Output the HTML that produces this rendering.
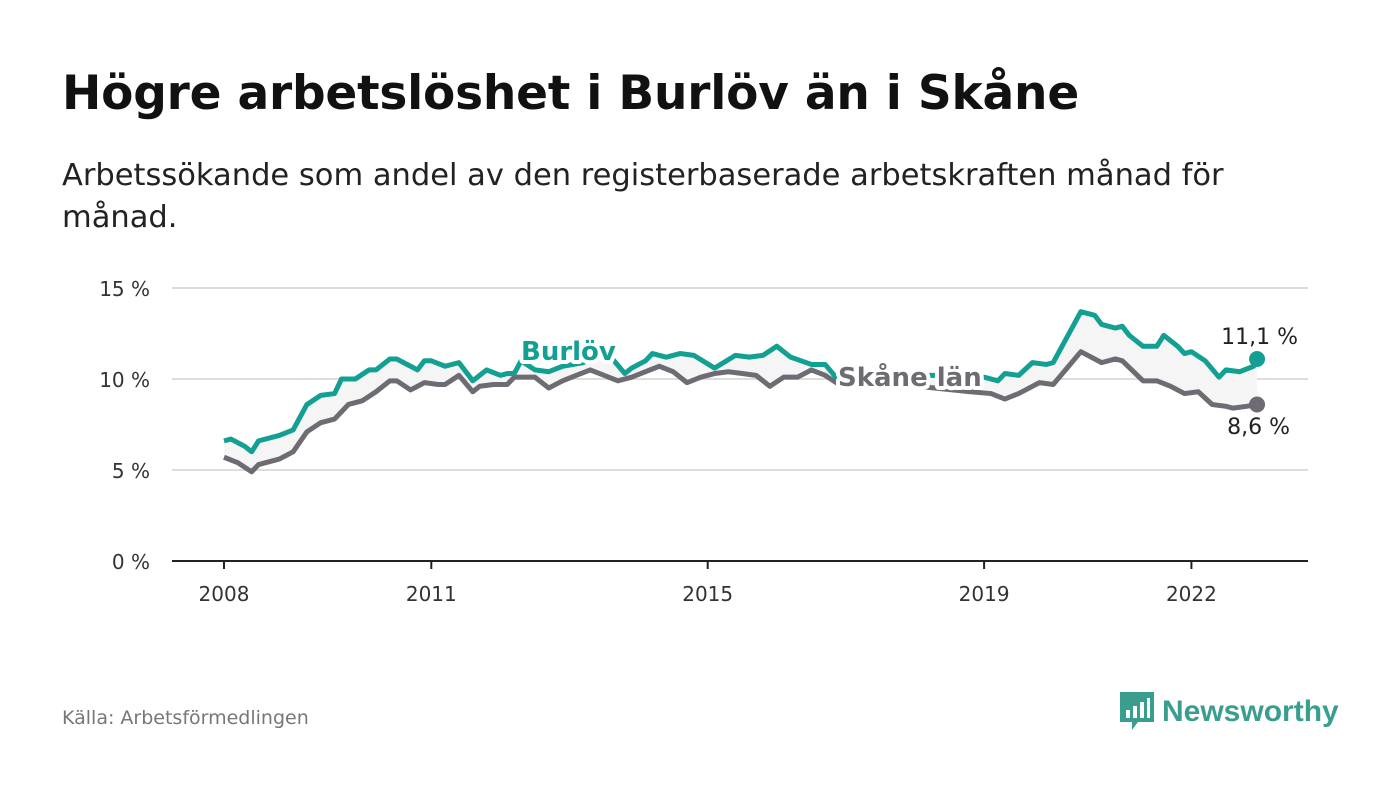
<!DOCTYPE html>
<html><head><meta charset="utf-8"><style>
body{margin:0;width:1400px;height:794px;background:#fff;font-family:"DejaVu Sans","Liberation Sans",sans-serif;overflow:hidden;position:relative}
.t{position:absolute;left:62px;top:66px;font-size:47px;font-weight:bold;color:#111;margin:0;letter-spacing:-0.2px;white-space:nowrap}
.s{position:absolute;left:62px;top:155px;font-size:30.5px;color:#222;line-height:42px;width:1200px}
.src{position:absolute;left:62px;top:707px;font-size:19px;color:#777}
</style></head><body>
<h1 class="t">Högre arbetslöshet i Burlöv än i Skåne</h1>
<div class="s">Arbetssökande som andel av den registerbaserade arbetskraften månad för månad.</div>
<div class="src">Källa: Arbetsförmedlingen</div>
<div style="position:absolute;left:1118px;top:690px;display:flex;align-items:center">
<svg width="38" height="44"><path d="M2 2h34v30H20l-6 8v-8H2z" fill="#3a9e8f"/><rect x="8" y="20" width="4" height="8" fill="#fff"/><rect x="15" y="16" width="4" height="12" fill="#fff"/><rect x="22" y="12" width="4" height="16" fill="#fff"/><rect x="29" y="8" width="3" height="20" fill="#fff"/></svg>
<span style="font-family:'Liberation Sans',sans-serif;font-size:30px;font-weight:bold;color:#3a9e8f;margin-left:6px">Newsworthy</span></div>
<svg id="c" width="1400" height="794" style="position:absolute;left:0;top:0"></svg>
<script>
const burlovDates=[2008.0,2008.1,2008.3,2008.4,2008.5,2008.8,2009.0,2009.2,2009.4,2009.6,2009.7,2009.9,2010.1,2010.2,2010.4,2010.5,2010.7,2010.8,2010.9,2011.0,2011.2,2011.4,2011.6,2011.7,2011.8,2012.0,2012.1,2012.2,2012.3,2012.5,2012.7,2012.9,2013.2,2013.4,2013.6,2013.8,2013.9,2014.1,2014.2,2014.4,2014.6,2014.8,2015.1,2015.4,2015.6,2015.8,2016.0,2016.2,2016.5,2016.7,2016.9,2017.0,2017.5,2018.0,2018.5,2019.0,2019.2,2019.3,2019.5,2019.7,2019.9,2020.0,2020.3,2020.4,2020.6,2020.7,2020.9,2021.0,2021.1,2021.3,2021.5,2021.6,2021.8,2021.9,2022.0,2022.2,2022.4,2022.5,2022.7,2022.9,2022.95];
const burlovVals=[6.6,6.7,6.3,6.0,6.6,6.9,7.2,8.6,9.1,9.2,10.0,10.0,10.5,10.5,11.1,11.1,10.7,10.5,11.0,11.0,10.7,10.9,9.9,10.2,10.5,10.2,10.3,10.3,11.0,10.5,10.4,10.7,10.9,11.5,11.2,10.3,10.6,11.0,11.4,11.2,11.4,11.3,10.6,11.3,11.2,11.3,11.8,11.2,10.8,10.8,9.9,10.2,10.2,10.2,10.2,10.1,9.9,10.3,10.2,10.9,10.8,10.9,13.0,13.7,13.5,13.0,12.8,12.9,12.4,11.8,11.8,12.4,11.8,11.4,11.5,11.0,10.1,10.5,10.4,10.7,11.1];
const skaneDates=[2008.0,2008.2,2008.4,2008.5,2008.8,2009.0,2009.2,2009.4,2009.6,2009.8,2010.0,2010.2,2010.4,2010.5,2010.7,2010.9,2011.1,2011.2,2011.4,2011.6,2011.7,2011.9,2012.1,2012.2,2012.5,2012.7,2012.9,2013.1,2013.3,2013.5,2013.7,2013.9,2014.1,2014.3,2014.5,2014.7,2014.9,2015.1,2015.3,2015.5,2015.7,2015.9,2016.1,2016.3,2016.5,2016.7,2016.9,2017.1,2017.3,2017.8,2018.3,2018.8,2019.1,2019.3,2019.5,2019.6,2019.8,2020.0,2020.2,2020.4,2020.5,2020.7,2020.9,2021.0,2021.3,2021.5,2021.7,2021.9,2022.1,2022.3,2022.5,2022.6,2022.8,2022.95];
const skaneVals=[5.7,5.4,4.9,5.3,5.6,6.0,7.1,7.6,7.8,8.6,8.8,9.3,9.9,9.9,9.4,9.8,9.7,9.7,10.2,9.3,9.6,9.7,9.7,10.1,10.1,9.5,9.9,10.2,10.5,10.2,9.9,10.1,10.4,10.7,10.4,9.8,10.1,10.3,10.4,10.3,10.2,9.6,10.1,10.1,10.5,10.2,9.7,9.7,9.8,9.7,9.5,9.3,9.2,8.9,9.2,9.4,9.8,9.7,10.6,11.5,11.3,10.9,11.1,11.0,9.9,9.9,9.6,9.2,9.3,8.6,8.5,8.4,8.5,8.6];
const yTicks=[0,5,10,15];
const xTicks=[2008,2011,2015,2019,2022];
const NS="http://www.w3.org/2000/svg",svg=document.getElementById('c');
const X=d=>224+(d-2008)*69.1, Y=v=>561-v*18.2;
function mk(t,a){const e=document.createElementNS(NS,t);for(const k in a)e.setAttribute(k,a[k]);svg.appendChild(e);return e;}
yTicks.forEach(v=>{
 const l=mk('line',{x1:172,x2:1308,y1:Y(v),y2:Y(v),stroke:v?'#ddd':'#222','stroke-width':2});
 
 
 const t=mk('text',{x:150,y:Y(v)+8,'text-anchor':'end','font-size':20,fill:'#333'});t.textContent=v+' %';
 
 
});
xTicks.forEach(d=>{
 const l=mk('line',{x1:X(d),x2:X(d),y1:561,y2:569,stroke:'#222','stroke-width':2});
 
 
 const t=mk('text',{x:X(d),y:601,'text-anchor':'middle','font-size':20,fill:'#333'});t.textContent=d;
 
 
});
const bp=burlovDates.map((d,i)=>X(d)+','+Y(burlovVals[i]));
const sp=skaneDates.map((d,i)=>X(d)+','+Y(skaneVals[i]));
const area=mk('polygon',{points:bp.concat(sp.slice().reverse()).join(' '),fill:'#f5f5f5'});


const ls=mk('polyline',{points:sp.join(' '),fill:'none',stroke:'#6e6c72','stroke-width':5,'stroke-linejoin':'round'});


const lb=mk('polyline',{points:bp.join(' '),fill:'none',stroke:'#13a093','stroke-width':5,'stroke-linejoin':'round'});


const n1=burlovVals.length-1,n2=skaneVals.length-1;
const d1=mk('circle',{cx:X(burlovDates[n1]),cy:Y(burlovVals[n1]),r:8,fill:'#13a093'});


const d2=mk('circle',{cx:X(skaneDates[n2]),cy:Y(skaneVals[n2]),r:8,fill:'#6e6c72'});


function lab(txt,x,y,col,w,name,anchor){const t=mk('text',{x:x,y:y,'font-size':w?26:22,'font-weight':w?'bold':'normal',fill:col,'text-anchor':anchor||'start',stroke:'#fff','stroke-width':w?8:0,'paint-order':'stroke','stroke-linejoin':'round'});t.textContent=txt;
 
 }
lab('Burlöv',521,360,'#13a093',1,'burlov-label');
lab('Skåne län',838,386,'#6e6c72',1,'skane-label');
lab(String(burlovVals[n1]).replace('.',',')+' %',X(burlovDates[n1])+41,344,'#222',0,'burlov-end-value','end');
lab(String(skaneVals[n2]).replace('.',',')+' %',X(skaneDates[n2])+33,434,'#222',0,'skane-end-value','end');
</script>
</body></html>
